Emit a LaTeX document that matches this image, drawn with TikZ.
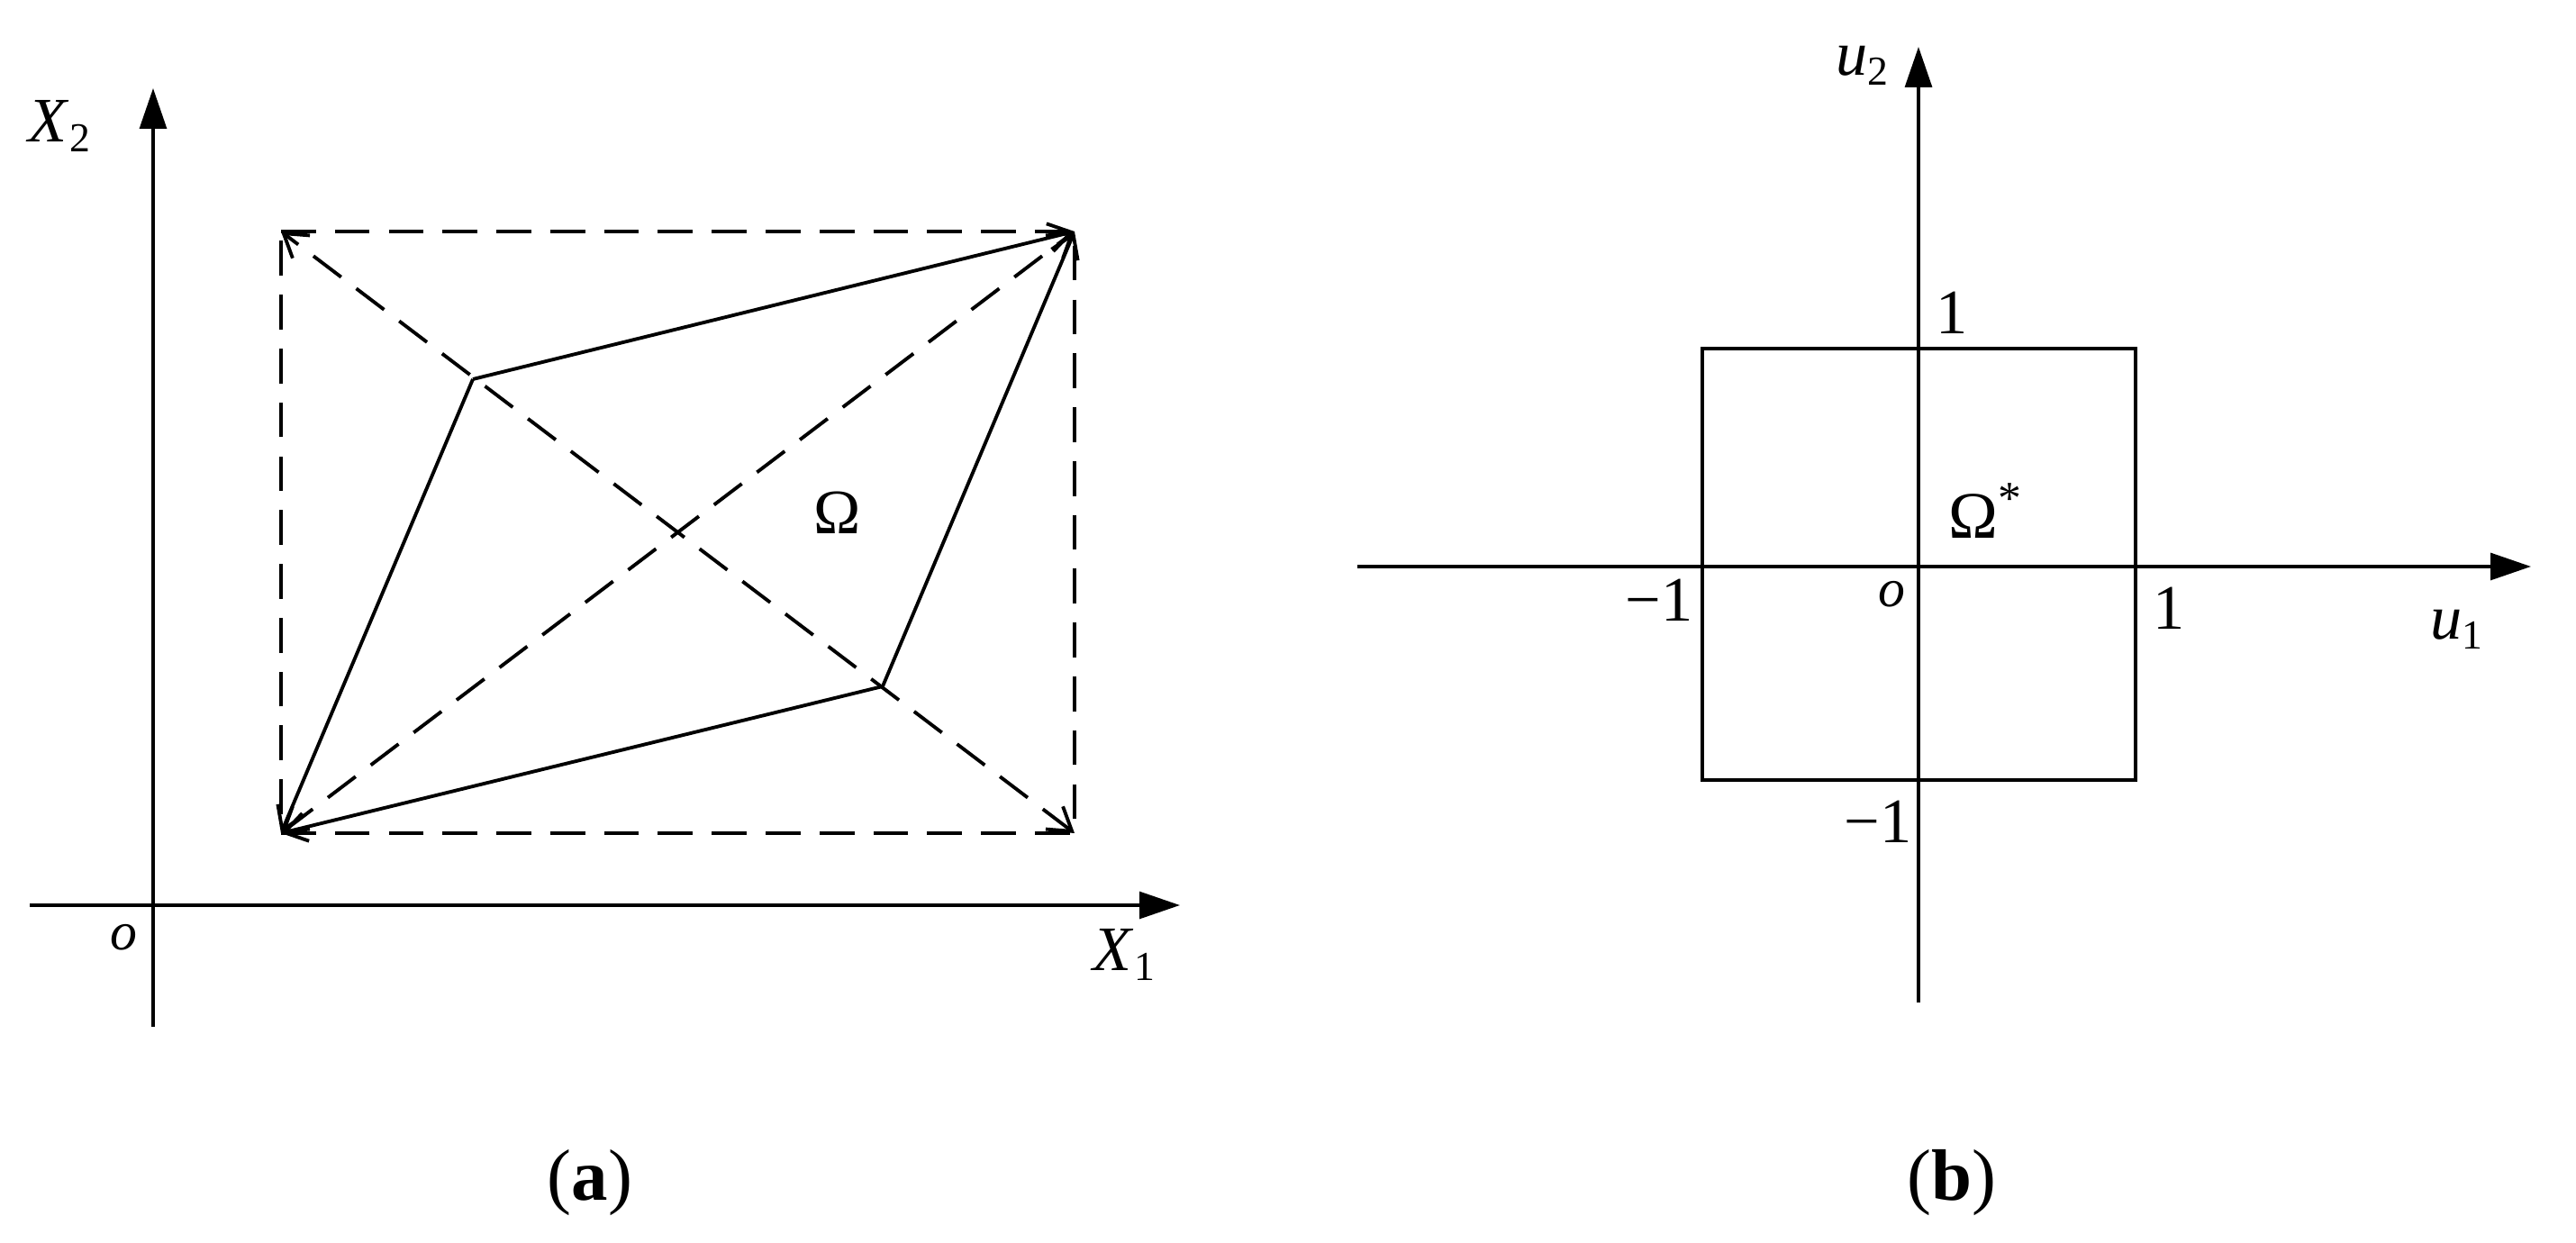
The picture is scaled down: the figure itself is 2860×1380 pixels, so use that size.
\documentclass[tikz,border=0pt]{standalone}
\usepackage{fontspec}
\setmainfont{Liberation Serif}
\usetikzlibrary{arrows.meta}

\begin{document}
\begin{tikzpicture}[x=0.01cm,y=-0.01cm,
    axis/.style={line width=1pt,-{Triangle[length=12.8pt,width=8.5pt]}},
    edge/.style={line width=1.1pt,-{Straight Barb[length=7pt,width=9pt]}},
    diag/.style={line width=1.1pt,dash pattern=on 11pt off 6pt,
        {Straight Barb[length=7pt,width=9pt]}-{Straight Barb[length=7pt,width=9pt]}},
    frame/.style={line width=1.1pt,dash pattern=on 11pt off 6pt},
    lbl/.style={inner sep=0pt,font=\fontsize{20}{20}\selectfont},
    caption/.style={inner sep=0pt,font=\fontsize{23}{23}\selectfont}]
\useasboundingbox (0,0) rectangle (2860,1380);
    \newcommand{\sub}[2]{\textit{#1}\raisebox{-0.35ex}{\fontsize{13}{13}\selectfont #2}}

% (a)
\coordinate (oa) at (170,1005);
\coordinate (lb) at (312,925);
\coordinate (rb) at (1193,925);
\coordinate (rt) at (1193,257);
\coordinate (lt) at (312,257);
\coordinate (p) at (525,421);
\coordinate (q) at (980,762);

\draw[axis] (170,1140) -- (170,98);
\draw[axis] (33,1005) -- (1310,1005);
\draw[frame] (lt) -- (rt) -- (rb) -- (lb) -- cycle;
\draw[diag] (lb) -- (rt);
\draw[diag] (rb) -- (lt);
\draw[edge] (p) -- (rt);
\draw[edge] (q) -- (rt);
\draw[edge] (p) -- (lb);
\draw[edge] (q) -- (lb);

\node[lbl] (x2) at (66,140) {\sub{X}{2}};
\node[lbl] (x1) at (1248,1060) {\sub{X}{1}};
\node[lbl,font=\fontsize{17}{17}\selectfont] (oma) at (137,1041) {\textit{o}};
\node[lbl] (om) at (930,569) {Ω};
\node[caption] (capa) at (655,1313) {(\textbf{a})};

% (b)
\coordinate (ob) at (2130,629);
\coordinate (s1) at (1890,387);
\coordinate (s2) at (2371,866);

\draw[axis] (2130,1113) -- (2130,52);
\draw[axis] (1507,629) -- (2810,629);
\draw[line width=1.1pt] (s1) rectangle (s2);

\node[lbl] (u2) at (2067,73) {\sub{u}{2}};
\node[lbl] (u1) at (2727,699) {\sub{u}{1}};
\node[lbl,font=\fontsize{17}{17}\selectfont] (omb) at (2100,660) {\textit{o}};
\node[lbl] (t1) at (2167,347) {1};
\node[lbl] (r1) at (2408,675) {1};
\node[lbl] (l1) at (1842,666) {−1};
\node[lbl] (b1) at (2085,912) {−1};
\node[lbl,font=\fontsize{21}{21}\selectfont] (oms) at (2205,567) {Ω\textsuperscript{*}};
\node[caption] (capb) at (2167,1313) {(\textbf{b})};
\end{tikzpicture}
\end{document}
